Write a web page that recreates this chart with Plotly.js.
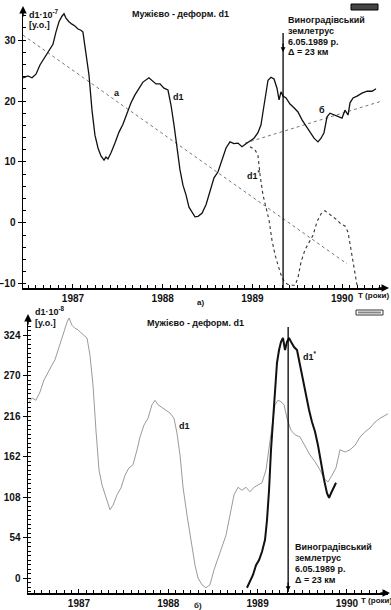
<!DOCTYPE html>
<html><head><meta charset="utf-8">
<script src="https://cdn.plot.ly/plotly-3.0.1.min.js"></script>
<style>html,body{margin:0;padding:0;background:#fff}#c{width:391px;height:610px}</style>
</head><body><div id="c"></div>
<script>
// ---------- DATA (top panel а) ----------
const topD1X = [1986.443,1986.498,1986.543,1986.588,1986.632,1986.677,1986.721,1986.744,1986.777,1986.810,1986.844,1986.877,1986.900,1986.922,1986.955,1986.989,1987.022,1987.056,1987.089,1987.111,1987.145,1987.178,1987.212,1987.245,1987.279,1987.312,1987.346,1987.368,1987.390,1987.424,1987.468,1987.513,1987.557,1987.602,1987.647,1987.691,1987.736,1987.780,1987.847,1987.881,1987.925,1987.970,1988.014,1988.059,1988.093,1988.126,1988.159,1988.193,1988.226,1988.260,1988.293,1988.327,1988.360,1988.394,1988.438,1988.483,1988.527,1988.572,1988.617,1988.661,1988.706,1988.750,1988.795,1988.839,1988.884,1988.929,1988.973,1989.018,1989.062,1989.096,1989.118,1989.152,1989.174,1989.207,1989.241,1989.274,1989.297,1989.319,1989.341,1989.375,1989.419,1989.464,1989.508,1989.553,1989.598,1989.642,1989.687,1989.731,1989.765,1989.798,1989.832,1989.865,1989.910,1989.954,1989.999,1990.032,1990.066,1990.088,1990.122,1990.166,1990.222,1990.278,1990.333,1990.378,1990.423];
const topD1Y = [23.8,24.1,23.8,24.4,25.9,27.0,28.0,28.7,29.3,31.3,33.0,33.9,34.3,33.6,33.0,32.6,32.3,31.8,31.6,31.3,27.5,24.3,18.5,14.4,12.3,11.0,10.3,10.8,10.5,11.5,13.1,14.9,16.2,18.0,19.7,21.0,22.1,23.1,23.8,23.3,22.8,22.8,22.1,21.8,19.3,16.1,12.0,8.7,6.2,4.6,2.6,1.8,1.0,1.1,1.6,3.0,5.4,7.4,8.4,10.3,12.3,13.3,13.0,13.1,12.5,13.0,13.4,13.9,14.8,16.1,18.2,21.0,23.4,23.9,23.6,22.1,20.2,21.5,20.8,20.5,19.5,18.9,18.2,16.9,15.9,14.8,13.9,13.3,13.9,14.8,17.4,18.0,17.7,17.5,17.2,18.5,17.7,19.7,20.5,20.8,21.3,21.6,21.6,22.0];
const topD1sX = [1988.973,1989.029,1989.062,1989.085,1989.118,1989.152,1989.185,1989.218,1989.252,1989.285,1989.319,1989.352,1989.386,1989.430,1989.475,1989.508,1989.542,1989.586,1989.631,1989.676,1989.720,1989.765,1989.809,1989.854,1989.899,1989.943,1989.988,1990.032,1990.066,1990.099,1990.133,1990.166];
const topD1sY = [12.5,12.0,11.1,7.9,4.6,2.5,0.5,-2.8,-5.2,-6.9,-8.5,-9.5,-10.0,-10.2,-10.2,-9.0,-6.4,-4.4,-3.3,-2.0,0.2,1.5,2.0,1.5,1.0,0.5,-0.2,-0.5,-1.5,-4.4,-7.7,-10.2];
const trendAX = [1986.443,1990.055], trendAY = [30.8,-6.7];
const trendBX = [1988.918,1990.445], trendBY = [13.1,20.0];
const topYTicks = [-10,0,10,20,30];

// ---------- DATA (bottom panel б) ----------
const botD1X = [1986.429,1986.474,1986.518,1986.563,1986.608,1986.653,1986.698,1986.731,1986.765,1986.798,1986.832,1986.866,1986.888,1986.922,1986.955,1986.989,1987.022,1987.056,1987.090,1987.123,1987.157,1987.190,1987.224,1987.258,1987.302,1987.347,1987.381,1987.426,1987.470,1987.515,1987.560,1987.605,1987.650,1987.683,1987.728,1987.773,1987.817,1987.851,1987.885,1987.929,1987.974,1988.019,1988.064,1988.097,1988.131,1988.165,1988.209,1988.254,1988.299,1988.333,1988.377,1988.422,1988.467,1988.512,1988.557,1988.601,1988.646,1988.691,1988.736,1988.781,1988.825,1988.870,1988.915,1988.960,1989.004,1989.049,1989.094,1989.128,1989.161,1989.195,1989.228,1989.262,1989.296,1989.329,1989.374,1989.419,1989.475,1989.531,1989.587,1989.643,1989.699,1989.744,1989.788,1989.833,1989.878,1989.923,1989.979,1990.035,1990.091,1990.147,1990.203,1990.259,1990.315,1990.371,1990.427,1990.460];
const botD1Y = [233,240,237,248,264,275,284,291,304,315,331,341,347,337,333,331,327,323,320,297,257,197,144,124,108,91,97,111,120,137,147,151,171,188,204,213,231,237,231,227,224,220,213,193,164,121,84,51,17,0,-9,-13,-9,11,27,40,57,84,111,121,117,121,115,121,124,127,144,171,201,231,237,235,231,213,197,191,188,175,164,155,144,133,128,137,147,171,168,171,177,188,195,200,208,213,217,219];
const botD1sX = [1988.881,1988.915,1988.948,1988.982,1989.016,1989.049,1989.083,1989.105,1989.128,1989.150,1989.172,1989.195,1989.217,1989.240,1989.262,1989.284,1989.307,1989.329,1989.352,1989.374,1989.408,1989.441,1989.475,1989.508,1989.542,1989.576,1989.609,1989.643,1989.676,1989.710,1989.744,1989.777,1989.800,1989.822,1989.856,1989.878];
const botD1sY = [-13,-5,4,17,24,35,51,77,117,171,211,251,287,304,315,320,304,315,320,315,308,304,284,264,240,224,208,195,177,151,131,113,107,113,121,127];
const botYTicks = [0,54,108,162,216,270,324];

const quakeX = 1989.342;
const xTickVals = [1987,1988,1989,1990];
const xTickText = ['1987','1988','1989','1990'];
const quakeLines = ['Виноградівський','землетрус','6.05.1989 р.','Δ = 23 км'];

// ---------- LAYOUT ----------
const W = 391, H = 610;
const FONT = 'Liberation Sans, Arial, sans-serif';
const px = v => v / W, py = v => 1 - v / H;

function xax(dom, rng, anchor){
  return {domain: dom, range: rng, anchor: anchor, showline: true, linecolor: '#000', linewidth: 1.5,
    showgrid: false, zeroline: false, tickvals: xTickVals, ticktext: xTickText, ticks: 'inside', ticklen: 4,
    tickcolor: '#000', tickfont: {family: FONT, size: 10, color: '#111', weight: 'bold'},
    minor: {dtick: 1/12, tick0: 1987, ticks: 'inside', ticklen: 3, tickcolor: '#000', showgrid: false}, fixedrange: true};
}
function yax(dom, rng, anchor, vals, mdt){
  return {domain: dom, range: rng, anchor: anchor, showline: true, linecolor: '#000', linewidth: 1.5,
    showgrid: false, zeroline: false, tickvals: vals, ticks: 'outside', ticklen: 4, tickcolor: '#000',
    tickfont: {family: FONT, size: 10, color: '#111', weight: 'bold'},
    minor: {dtick: mdt, tick0: 0, ticks: 'inside', ticklen: 3, tickcolor: '#000', showgrid: false}, fixedrange: true};
}

const traces = [
  {x: trendAX, y: trendAY, xaxis: 'x', yaxis: 'y', mode: 'lines', line: {color: '#777', width: 1, dash: 'dot'}},
  {x: trendBX, y: trendBY, xaxis: 'x', yaxis: 'y', mode: 'lines', line: {color: '#777', width: 1, dash: 'dot'}},
  {x: topD1sX, y: topD1sY, xaxis: 'x', yaxis: 'y', mode: 'lines', line: {color: '#333', width: 1.1, dash: 'dot'}},
  {x: topD1X, y: topD1Y, xaxis: 'x', yaxis: 'y', mode: 'lines', line: {color: '#111', width: 1.3}},
  {x: botD1X, y: botD1Y, xaxis: 'x2', yaxis: 'y2', mode: 'lines', line: {color: '#9a9a9a', width: 1}},
  {x: botD1sX, y: botD1sY, xaxis: 'x2', yaxis: 'y2', mode: 'lines', line: {color: '#111', width: 2}}
];

const txt = (x, y, t, size, anchor, extra) => Object.assign({xref: 'paper', yref: 'paper', x: px(x), y: py(y), text: t,
  showarrow: false, xanchor: anchor || 'center', yanchor: 'middle', font: {family: FONT, size: size || 9, color: '#111', weight: 'bold'}}, extra || {});

const ann = [
  // top panel
  txt(180, 14, 'Мужієво - деформ. d1', 9),
  txt(27, 14, 'd1·10<sup>-7</sup>', 9, 'left'),
  txt(27, 25, '[у.о.]', 9, 'left'),
  txt(117, 93, 'a', 9),
  txt(178, 97, 'd1', 9),
  txt(322, 110, 'б', 9),
  txt(254, 175, 'd1<sup>*</sup>', 9),
  txt(356, 295, 'T (роки)', 8, 'left'),
  txt(200, 302, 'а)', 8),
  // bottom panel
  txt(195, 323, 'Мужієво - деформ. d1', 9),
  txt(33, 311, 'd1·10<sup>-8</sup>', 9, 'left'),
  txt(33, 323, '[у.о.]', 9, 'left'),
  txt(184, 426, 'd1', 9),
  txt(310, 356, 'd1<sup>*</sup>', 9),
  txt(359, 600, 'T (роки)', 8, 'left'),
  txt(198, 605, 'б)', 8),
  // axis arrows
  {xref: 'paper', yref: 'paper', x: px(23), y: py(6), ax: 0, ay: 12, text: '', showarrow: true, arrowhead: 2, arrowsize: 1, arrowwidth: 1.5, arrowcolor: '#000'},
  {xref: 'paper', yref: 'paper', x: px(389), y: py(288), ax: -12, ay: 0, text: '', showarrow: true, arrowhead: 2, arrowsize: 1, arrowwidth: 1.5, arrowcolor: '#000'},
  {xref: 'paper', yref: 'paper', x: px(28), y: py(314), ax: 0, ay: 12, text: '', showarrow: true, arrowhead: 2, arrowsize: 1, arrowwidth: 1.5, arrowcolor: '#000'},
  {xref: 'paper', yref: 'paper', x: px(391), y: py(593), ax: -12, ay: 0, text: '', showarrow: true, arrowhead: 2, arrowsize: 1, arrowwidth: 1.5, arrowcolor: '#000'},
  // quake arrows
  {xref: 'x', yref: 'paper', x: quakeX, y: py(52), ax: 0, ay: -10, text: '', showarrow: true, arrowhead: 2, arrowsize: 0.8, arrowwidth: 1.2, arrowcolor: '#000'},
  {xref: 'x2', yref: 'paper', x: quakeX, y: py(591), ax: 0, ay: -10, text: '', showarrow: true, arrowhead: 2, arrowsize: 0.8, arrowwidth: 1.2, arrowcolor: '#000'}
];
quakeLines.forEach((t, i) => {
  ann.push(txt(286, 20 + i * 10.8, t, 9, 'left'));
  ann.push(txt(293, 547 + i * 11, t, 9, 'left'));
});

const shapes = [
  {type: 'line', xref: 'x', yref: 'paper', x0: quakeX, x1: quakeX, y0: py(33), y1: py(288), line: {color: '#000', width: 1.3}},
  {type: 'line', xref: 'x2', yref: 'paper', x0: quakeX, x1: quakeX, y0: py(327), y1: py(592), line: {color: '#000', width: 1.3}},
  {type: 'rect', xref: 'paper', yref: 'paper', x0: px(351), x1: px(378), y0: py(4), y1: py(10), fillcolor: '#444', line: {color: '#000', width: 1}},
  {type: 'rect', xref: 'paper', yref: 'paper', x0: px(356), x1: px(383), y0: py(310), y1: py(315), fillcolor: '#fff', line: {color: '#333', width: 1}},
  {type: 'rect', xref: 'paper', yref: 'paper', x0: px(358), x1: px(381), y0: py(311.5), y1: py(313.5), fillcolor: '#888', line: {width: 0}}
];

const layout = {
  width: W, height: H, margin: {l: 0, r: 0, t: 0, b: 0}, paper_bgcolor: '#fff', plot_bgcolor: 'rgba(0,0,0,0)',
  showlegend: false,
  xaxis: xax([px(23), px(385)], [1986.443, 1990.478], 'y'),
  yaxis: yax([py(288), py(10)], [-10.66, 34.92], 'x', topYTicks, 2),
  xaxis2: xax([px(28), px(388)], [1986.429, 1990.460], 'y2'),
  yaxis2: yax([py(593), py(318)], [-20, 346.7], 'x2', botYTicks, 6),
  annotations: ann, shapes: shapes
};
Plotly.newPlot('c', traces, layout, {staticPlot: true, displayModeBar: false});
</script></body></html>
